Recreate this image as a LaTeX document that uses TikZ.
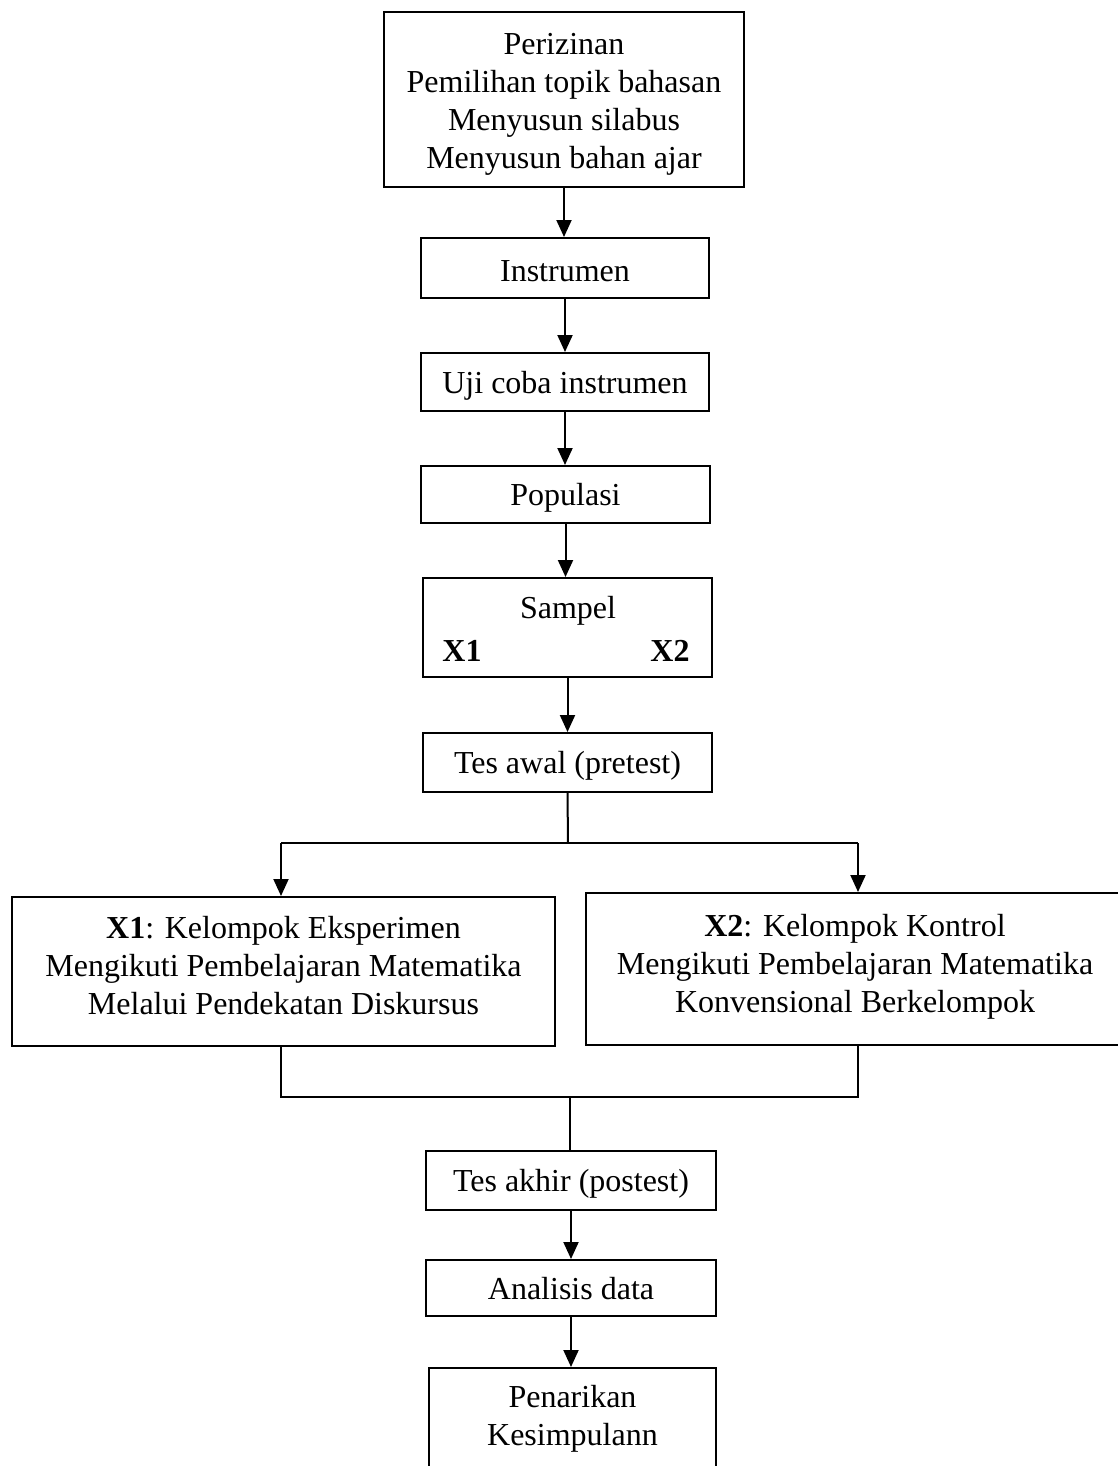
\documentclass[tikz,border=0pt]{standalone}
\usepackage{fontspec}
\setmainfont{Liberation Serif}
\usetikzlibrary{arrows.meta}
\begin{document}
\begin{tikzpicture}[x=1pt,y=-1pt,
  box/.style={draw, line width=2pt, inner sep=0pt},
  txt/.style={align=center, inner sep=0pt, font=\fontsize{32}{38}\selectfont},
  arr/.style={line width=2pt, -{Triangle[width=15pt,length=17pt]}},
  ln/.style={line width=2pt}]
\useasboundingbox (0,0) rectangle (1118,1466);
\node[box, minimum width=360, minimum height=175] (b1) at (564,99.5) {};
\node[txt, yshift=-5pt] (t1) at (b1) {Perizinan\\Pemilihan topik bahasan\\Menyusun silabus\\Menyusun bahan ajar};
\node[box, minimum width=288, minimum height=60] (b2) at (565,268) {};
\node[txt, yshift=-3pt] (t2) at (b2) {Instrumen};
\node[box, minimum width=288, minimum height=58] (b3) at (565,382) {};
\node[txt, yshift=-3.5pt] (t3) at (b3) {Uji coba instrumen};
\node[box, minimum width=289, minimum height=57] (b4) at (565.5,494.5) {};
\node[txt, yshift=-3pt] (t4) at (b4) {Populasi};
\node[box, minimum width=289, minimum height=99] (b5) at (567.5,627.5) {};
\node[txt] (t5) at (568,611) {Sampel};
\node[txt] (t5a) at (462,651) {\textbf{X1}};
\node[txt] (t5b) at (670,651) {\textbf{X2}};
\node[box, minimum width=289, minimum height=59] (b6) at (567.5,762.5) {};
\node[txt, yshift=-3pt] (t6) at (b6) {Tes awal (pretest)};
\node[box, minimum width=543, minimum height=149] (bx1) at (283.5,971.5) {};
\node[txt] (tx1) at (283.5,966) {\textbf{X1}: Kelompok Eksperimen\\Mengikuti Pembelajaran Matematika\\Melalui Pendekatan Diskursus};
\node[box, minimum width=538, minimum height=152] (bx2) at (855,969) {};
\node[txt] (tx2) at (855,967) {\textbf{X2}: Kelompok Kontrol\\Mengikuti Pembelajaran Matematika\\Konvensional Berkelompok};
\node[box, minimum width=290, minimum height=59] (b7) at (571,1180.5) {};
\node[txt, yshift=-3pt] (t7) at (b7) {Tes akhir (postest)};
\node[box, minimum width=290, minimum height=56] (b8) at (571,1288) {};
\node[txt, yshift=-1pt] (t8) at (b8) {Analisis data};
\node[box, minimum width=287, minimum height=112] (b9) at (572.5,1424) {};
\node[txt] (t9) at (572.5,1419) {Penarikan\\Kesimpulann};
\draw[arr] (b1.south) -- (b1.south |- b2.north);
\draw[arr] (b2.south) -- (b2.south |- b3.north);
\draw[arr] (b3.south) -- (b3.south |- b4.north);
\draw[arr] (b4.south) -- (b4.south |- b5.north);
\draw[arr] (b5.south) -- (b5.south |- b6.north);
\coordinate (s) at (568,843);
\coordinate (sl) at (281,843);
\coordinate (sr) at (858,843);
\draw[ln] (b6.south) -- (s);
\draw[ln] (sl) -- (sr);
\draw[arr] (sl) -- (sl |- bx1.north);
\draw[arr] (sr) -- (sr |- bx2.north);
\coordinate (ml) at (281,1097);
\coordinate (mr) at (858,1097);
\coordinate (m) at (570,1097);
\draw[ln] (ml |- bx1.south) -- (ml) -- (mr) -- (mr |- bx2.south);
\draw[ln] (m) -- (m |- b7.north);
\draw[arr] (b7.south) -- (b7.south |- b8.north);
\draw[arr] (b8.south) -- (b8.south |- b9.north);
\end{tikzpicture}
\end{document}
